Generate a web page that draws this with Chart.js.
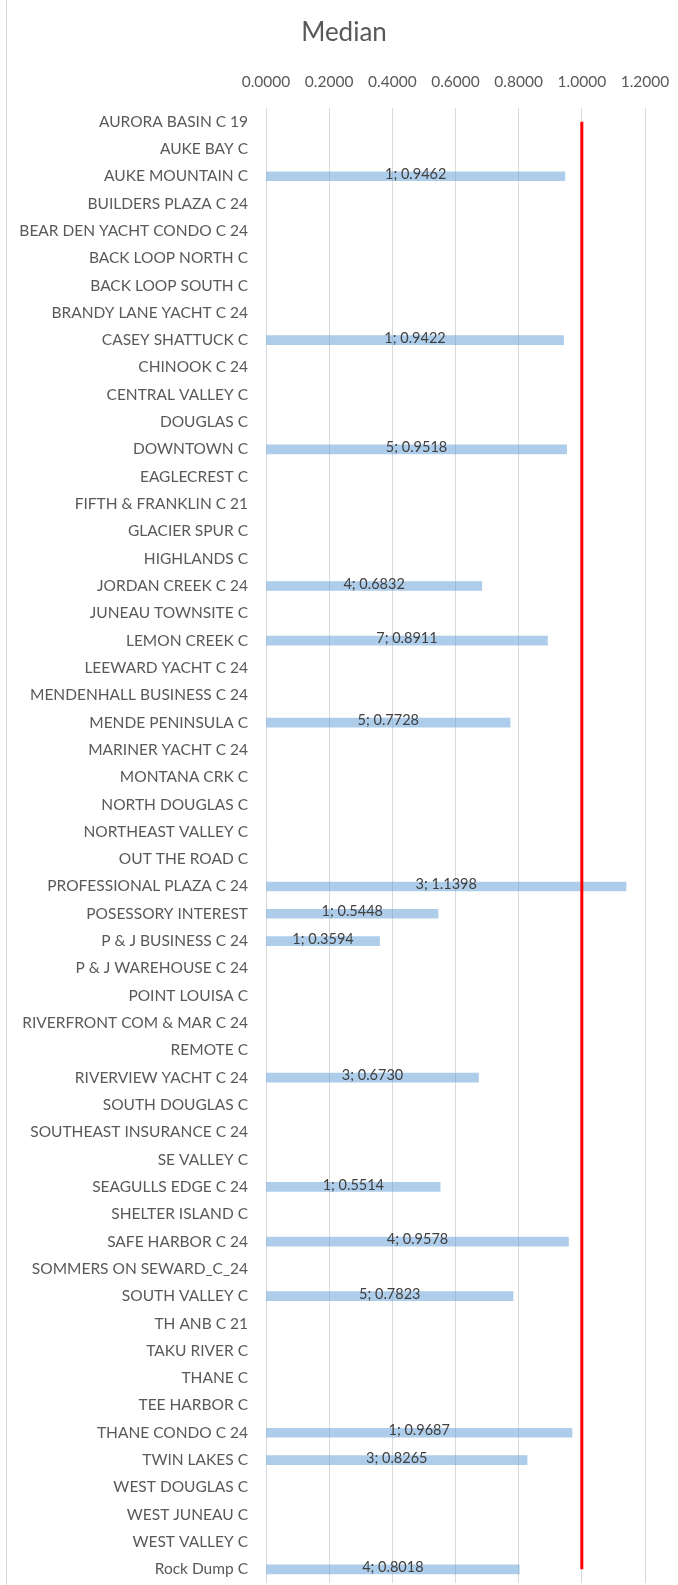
<!DOCTYPE html>
<html>
<head>
<meta charset="utf-8">
<script src="https://cdn.jsdelivr.net/npm/chart.js@4.4.1/dist/chart.umd.min.js"></script>
<style>
  html, body { margin: 0; padding: 0; background: #ffffff; }
  #wrap { width: 678px; height: 1585px; position: relative; }
</style>
</head>
<body>
<div id="wrap"><canvas id="chart" width="678" height="1585"></canvas></div>
<script>
const categories = [
  'AURORA BASIN C 19', 'AUKE BAY C', 'AUKE MOUNTAIN C', 'BUILDERS PLAZA C 24',
  'BEAR DEN YACHT CONDO C 24', 'BACK LOOP NORTH C', 'BACK LOOP SOUTH C',
  'BRANDY LANE YACHT C 24', 'CASEY SHATTUCK C', 'CHINOOK C 24', 'CENTRAL VALLEY C',
  'DOUGLAS C', 'DOWNTOWN C', 'EAGLECREST C', 'FIFTH & FRANKLIN C 21', 'GLACIER SPUR C',
  'HIGHLANDS C', 'JORDAN CREEK C 24', 'JUNEAU TOWNSITE C', 'LEMON CREEK C',
  'LEEWARD YACHT C 24', 'MENDENHALL BUSINESS C 24', 'MENDE PENINSULA C',
  'MARINER YACHT C 24', 'MONTANA CRK C', 'NORTH DOUGLAS C', 'NORTHEAST VALLEY C',
  'OUT THE ROAD C', 'PROFESSIONAL PLAZA C 24', 'POSESSORY INTEREST',
  'P & J BUSINESS C 24', 'P & J WAREHOUSE C 24', 'POINT LOUISA C',
  'RIVERFRONT COM & MAR C 24', 'REMOTE C', 'RIVERVIEW YACHT C 24', 'SOUTH DOUGLAS C',
  'SOUTHEAST INSURANCE C 24', 'SE VALLEY C', 'SEAGULLS EDGE C 24', 'SHELTER ISLAND C',
  'SAFE HARBOR C 24', 'SOMMERS ON SEWARD_C_24', 'SOUTH VALLEY C', 'TH ANB C 21',
  'TAKU RIVER C', 'THANE C', 'TEE HARBOR C', 'THANE CONDO C 24', 'TWIN LAKES C',
  'WEST DOUGLAS C', 'WEST JUNEAU C', 'WEST VALLEY C', 'Rock Dump C'
];

// Median ratio per neighborhood (null where there were no sales)
const medians = [
  null, null, 0.9462, null,
  null, null, null,
  null, 0.9422, null, null,
  null, 0.9518, null, null, null,
  null, 0.6832, null, 0.8911,
  null, null, 0.7728,
  null, null, null, null,
  null, 1.1398, 0.5448,
  0.3594, null, null,
  null, null, 0.6730, null,
  null, null, 0.5514, null,
  0.9578, null, 0.7823, null,
  null, null, null, 0.9687, 0.8265,
  null, null, null, 0.8018
];

// Number of sales behind each median
const counts = [
  null, null, 1, null,
  null, null, null,
  null, 1, null, null,
  null, 5, null, null, null,
  null, 4, null, 7,
  null, null, 5,
  null, null, null, null,
  null, 3, 1,
  1, null, null,
  null, null, 3, null,
  null, null, 1, null,
  4, null, 5, null,
  null, null, null, 1, 3,
  null, null, null, 4
];

const xTicks = [0, 0.2, 0.4, 0.6, 0.8, 1.0, 1.2];
const TARGET = 1.0;
const TITLE = 'Median';

const FONT = 'Lato, "Open Sans", sans-serif';

// Chart heading, centred over the whole canvas
const heading = {
  id: 'heading',
  afterDraw(chart) {
    const ctx = chart.ctx;
    ctx.save();
    ctx.font = '26px ' + FONT;
    ctx.fillStyle = '#595959';
    ctx.textAlign = 'center';
    ctx.textBaseline = 'middle';
    ctx.fillText(TITLE, 344, 33);
    ctx.restore();
  }
};

// Writes "count; median" in the middle of each bar
const barLabels = {
  id: 'barLabels',
  afterDatasetsDraw(chart) {
    const meta = chart.getDatasetMeta(0);
    const ctx = chart.ctx;
    ctx.save();
    ctx.font = '14.5px ' + FONT;
    ctx.fillStyle = '#404040';
    ctx.textAlign = 'center';
    ctx.textBaseline = 'middle';
    meta.data.forEach((bar, i) => {
      const v = medians[i];
      if (v === null || v === undefined) return;
      const cx = (bar.x + bar.base) / 2;
      ctx.fillText(counts[i] + '; ' + v.toFixed(4), cx, bar.y - 2);
    });
    ctx.restore();
  }
};

// Thin frame line down the left edge of the chart area
const frameEdge = {
  id: 'frameEdge',
  beforeDraw(chart) {
    const ctx = chart.ctx;
    ctx.save();
    ctx.strokeStyle = '#D9D9D9';
    ctx.lineWidth = 1;
    ctx.beginPath();
    ctx.moveTo(6.5, 0);
    ctx.lineTo(6.5, chart.height);
    ctx.stroke();
    ctx.restore();
  }
};

new Chart(document.getElementById('chart'), {
  type: 'bar',
  data: {
    labels: categories,
    datasets: [
      {
        type: 'bar',
        label: 'Median',
        data: medians,
        backgroundColor: 'rgba(91,155,213,0.5)',
        borderWidth: 0,
        barThickness: 9,
        order: 2
      },
      {
        type: 'line',
        label: 'Target',
        indexAxis: 'y',
        data: [
          { x: TARGET, y: categories[0] },
          { x: TARGET, y: categories[categories.length - 1] }
        ],
        borderColor: '#FF0000',
        borderWidth: 3,
        pointRadius: 0,
        fill: false,
        order: 1
      }
    ]
  },
  options: {
    indexAxis: 'y',
    responsive: false,
    animation: false,
    devicePixelRatio: 1,
    layout: { padding: { left: 0, right: 33, top: 56, bottom: 2 } },
    plugins: {
      legend: { display: false },
      tooltip: { enabled: false },
      title: { display: false }
    },
    scales: {
      x: {
        position: 'top',
        min: 0,
        max: 1.2,
        afterBuildTicks(scale) {
          scale.ticks = xTicks.map(v => ({ value: v }));
        },
        afterFit(scale) {
          scale.height = 52;
          scale.paddingLeft = 0;
          scale.paddingRight = 0;
        },
        ticks: {
          color: '#595959',
          font: { family: FONT, size: 15.5 },
          padding: 17,
          maxRotation: 0,
          callback: v => Number(v).toFixed(4)
        },
        grid: { color: '#D9D9D9', drawTicks: false },
        border: { display: false }
      },
      y: {
        afterFit(scale) {
          scale.width = 266;
          scale.paddingTop = 0;
          scale.paddingBottom = 0;
        },
        ticks: {
          color: '#595959',
          font: { family: FONT, size: 15.5 },
          padding: 18,
          autoSkip: false
        },
        grid: { display: false, drawTicks: false },
        border: { display: false }
      }
    }
  },
  plugins: [frameEdge, barLabels, heading]
});
</script>
</body>
</html>
